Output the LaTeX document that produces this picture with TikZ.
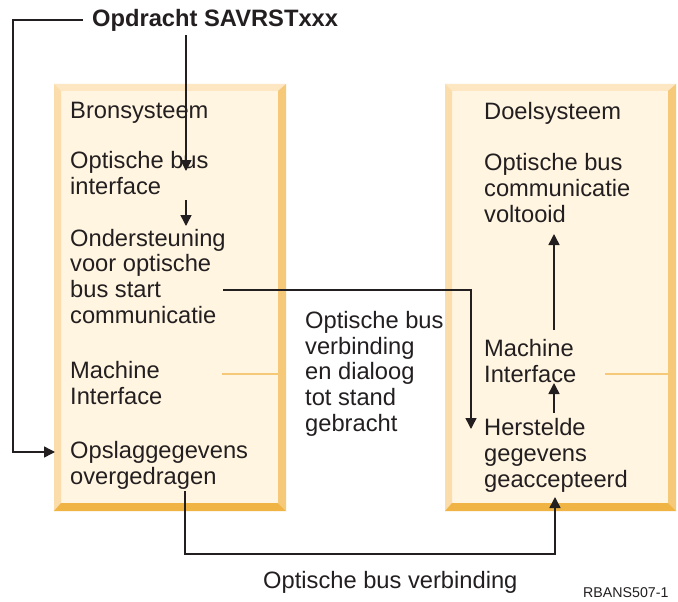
\documentclass[tikz,border=0pt]{standalone}
\usepackage{fontspec}
\setmainfont{Liberation Sans}
\usetikzlibrary{arrows.meta}

\definecolor{ink}{HTML}{231F20}
\definecolor{boxfill}{HTML}{FFF5E1}
\definecolor{bevtop}{HTML}{FDE6C2}
\definecolor{bevleft}{HTML}{FBDDAC}
\definecolor{bevright}{HTML}{F5C978}
\definecolor{bevbottom}{HTML}{EFB443}

% Bevelled panel: #1,#2 = top-left corner, #3,#4 = bottom-right corner
\newcommand{\bevelpanel}[4]{%
  \fill[boxfill] (#1,#2) rectangle (#3,#4);
  \fill[bevtop] (#1,#2) -- (#3,#2) -- ({#3-7},{#2+7}) -- ({#1+7},{#2+7}) -- cycle;
  \fill[bevleft] (#1,#2) -- ({#1+7},{#2+7}) -- ({#1+7},{#4-7}) -- (#1,#4) -- cycle;
  \fill[bevright] (#3,#2) -- (#3,#4) -- ({#3-8},{#4-8}) -- ({#3-8},{#2+7}) -- cycle;
  \fill[bevbottom] (#1,#4) -- (#3,#4) -- ({#3-8},{#4-8}) -- ({#1+7},{#4-8}) -- cycle;
}

\begin{document}
\begin{tikzpicture}[x=1pt,y=-1pt,
  txt/.style={anchor=base west, inner sep=0pt, align=left,
    font=\fontsize{23.7}{25.6}\selectfont, text=ink},
  conn/.style={draw=ink, line width=1.5pt},
  arr/.style={conn, -{Triangle[length=11pt,width=11pt]}},
  mlink/.style={draw=bevright, line width=1.6pt}]

\useasboundingbox[fill=white] (0,0) rectangle (678,602);

% the two systems
\bevelpanel{54}{84}{286}{511}
\bevelpanel{445}{84}{676}{511}

% texts (multi-line nodes are placed by the baseline of their last line)
\node[txt, font=\fontsize{23.7}{25.6}\selectfont\bfseries] (cmd) at (92,27) {Opdracht SAVRSTxxx};

\node[txt] (src)  at (70,118) {Bronsysteem};
\node[txt] (obi)  at (70,194) {Optische bus\\interface};
\node[txt] (ond)  at (70,323) {Ondersteuning\\voor optische\\bus start\\communicatie};
\node[txt] (mis)  at (70,404.5) {Machine\\Interface};
\node[txt] (opsl) at (70,484) {Opslaggegevens\\overgedragen};

\node[txt] (dst)  at (484,120) {Doelsysteem};
\node[txt] (obc)  at (484,222) {Optische bus\\communicatie\\voltooid};
\node[txt] (mid)  at (484,382) {Machine\\Interface};
\node[txt] (her)  at (484,487) {Herstelde\\gegevens\\geaccepteerd};

\node[txt] (dlg)  at (305,431) {Optische bus\\verbinding\\en dialoog\\tot stand\\gebracht};
\node[txt] (vbd)  at (263,588) {Optische bus verbinding};
\node[txt, font=\fontsize{14.2}{16}\selectfont] (fig) at (583,597) {RBANS507-1};

% connector points
\coordinate (cmdL)  at (83,20);
\coordinate (cnrA)  at (13,20);
\coordinate (cnrB)  at (13,452);
\coordinate (opslIn) at (55,452);
\coordinate (cmdB)  at (186,35);
\coordinate (obiIn) at (186,171);
\coordinate (obiOut) at (186,200);
\coordinate (ondIn) at (186,226);
\coordinate (ondOut) at (223,290);
\coordinate (cnrC)  at (471,290);
\coordinate (herIn) at (471,429);
\coordinate (herOut) at (554,413);
\coordinate (midIn) at (554,383);
\coordinate (midOut) at (554,330);
\coordinate (obcIn) at (554,234);
\coordinate (opslOut) at (185,491);
\coordinate (cnrD) at (185,554);
\coordinate (cnrE) at (555,554);
\coordinate (herBot) at (555,497);

% connectors
\draw[arr] (cmdL) -- (cnrA) -- (cnrB) -- (opslIn);
\draw[arr] (cmdB) -- (obiIn);
\draw[arr] (obiOut) -- (ondIn);
\draw[arr] (ondOut) -- (cnrC) -- (herIn);
\draw[arr] (herOut) -- (midIn);
\draw[arr] (midOut) -- (obcIn);
\draw[arr] (opslOut) -- (cnrD) -- (cnrE) -- (herBot);

% machine interface links
\coordinate (misR) at (222,374);
\coordinate (srcEdge) at (279,374);
\coordinate (midR) at (605,374);
\coordinate (dstEdge) at (668,374);
\draw[mlink] (misR) -- (srcEdge);
\draw[mlink] (midR) -- (dstEdge);

\end{tikzpicture}
\end{document}
